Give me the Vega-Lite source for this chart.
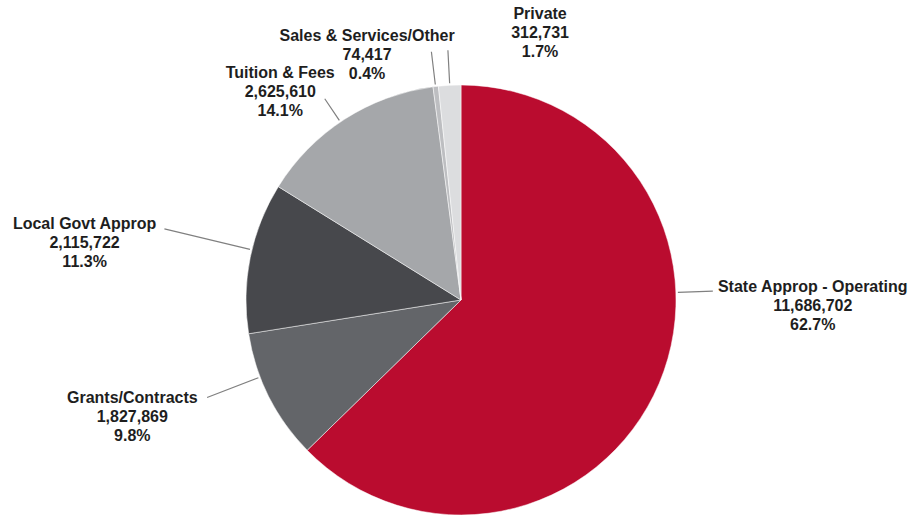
{
  "$schema": "https://vega.github.io/schema/vega-lite/v6.json",
  "width": 904,
  "height": 432,
  "padding": {"left": 9, "top": 84, "right": 0, "bottom": 0},
  "autosize": {"type": "none"},
  "background": "white",
  "config": {"view": {"stroke": null}},
  "data": {
    "values": [
      {"name": "State Approp - Operating", "value": 11686702, "idx": 1},
      {"name": "Grants/Contracts", "value": 1827869, "idx": 2},
      {"name": "Local Govt Approp", "value": 2115722, "idx": 3},
      {"name": "Tuition & Fees", "value": 2625610, "idx": 4},
      {"name": "Sales & Services/Other", "value": 74417, "idx": 5},
      {"name": "Private", "value": 312731, "idx": 6}
    ]
  },
  "transform": [
    {"joinaggregate": [{"op": "sum", "field": "value", "as": "total"}]},
    {"calculate": "[datum.name, format(datum.value, ','), format(datum.value / datum.total, '.1%')]", "as": "label"},
    {"stack": "value", "groupby": [], "sort": [{"field": "idx", "order": "ascending"}], "as": ["s0", "s1"]}
  ],
  "layer": [
    {
      "mark": {"type": "arc", "outerRadius": 215, "stroke": "white", "strokeWidth": 0.5},
      "encoding": {
        "theta": {"field": "value", "type": "quantitative", "stack": true},
        "order": {"field": "idx", "type": "quantitative"},
        "color": {
          "field": "name", "type": "nominal", "legend": null,
          "scale": {
            "domain": ["State Approp - Operating", "Grants/Contracts", "Local Govt Approp", "Tuition & Fees", "Sales & Services/Other", "Private"],
            "range": ["#BA0C2F", "#636569", "#47484C", "#A5A7AA", "#BDBEC1", "#DCDDDF"]
          }
        }
      }
    },
    {
      "transform": [{"filter": "datum.name == 'State Approp - Operating'"}],
      "mark": {"type": "arc", "innerRadius": 217, "outerRadius": 252, "thetaOffset": 1.53589, "theta2Offset": 1.53589, "fillOpacity": 0, "stroke": "#808080", "strokeWidth": 1.2},
      "encoding": {"theta": {"field": "s0", "type": "quantitative", "stack": null}, "theta2": {"field": "s0"}}
    },
    {
      "transform": [{"filter": "datum.name == 'Grants/Contracts'"}],
      "mark": {"type": "arc", "innerRadius": 217, "outerRadius": 272, "thetaOffset": 0.40718, "theta2Offset": 0.40718, "fillOpacity": 0, "stroke": "#808080", "strokeWidth": 1.2},
      "encoding": {"theta": {"field": "s0", "type": "quantitative", "stack": null}, "theta2": {"field": "s0"}}
    },
    {
      "transform": [{"filter": "datum.name == 'Local Govt Approp'"}],
      "mark": {"type": "arc", "innerRadius": 217, "outerRadius": 305, "thetaOffset": 0.39322, "theta2Offset": 0.39322, "fillOpacity": 0, "stroke": "#808080", "strokeWidth": 1.2},
      "encoding": {"theta": {"field": "s0", "type": "quantitative", "stack": null}, "theta2": {"field": "s0"}}
    },
    {
      "transform": [{"filter": "datum.name == 'Tuition & Fees'"}],
      "mark": {"type": "arc", "innerRadius": 217, "outerRadius": 243, "thetaOffset": 0.42019, "theta2Offset": 0.42019, "fillOpacity": 0, "stroke": "#808080", "strokeWidth": 1.2},
      "encoding": {"theta": {"field": "s0", "type": "quantitative", "stack": null}, "theta2": {"field": "s0"}}
    },
    {
      "transform": [{"filter": "datum.name == 'Sales & Services/Other'"}],
      "mark": {"type": "arc", "innerRadius": 217, "outerRadius": 250, "thetaOffset": 0.01178, "theta2Offset": 0.01178, "fillOpacity": 0, "stroke": "#808080", "strokeWidth": 1.2},
      "encoding": {"theta": {"field": "s0", "type": "quantitative", "stack": null}, "theta2": {"field": "s0"}}
    },
    {
      "transform": [{"filter": "datum.name == 'Private'"}],
      "mark": {"type": "arc", "innerRadius": 217, "outerRadius": 250, "thetaOffset": 0.05303, "theta2Offset": 0.05303, "fillOpacity": 0, "stroke": "#808080", "strokeWidth": 1.2},
      "encoding": {"theta": {"field": "s0", "type": "quantitative", "stack": null}, "theta2": {"field": "s0"}}
    },
    {
      "mark": {"type": "text", "radius": 352, "thetaOffset": -0.4353, "font": "Liberation Sans", "fontSize": 16, "fontWeight": "bold", "lineHeight": 19, "align": "center", "baseline": "middle", "fill": "#1E1E1E"},
      "encoding": {"theta": {"field": "value", "type": "quantitative", "stack": true}, "order": {"field": "idx", "type": "quantitative"}, "text": {"condition": {"test": "datum.name == 'State Approp - Operating'", "field": "label"}, "value": ""}}
    },
    {
      "mark": {"type": "text", "radius": 343, "thetaOffset": 0.1759, "font": "Liberation Sans", "fontSize": 16, "fontWeight": "bold", "lineHeight": 19, "align": "center", "baseline": "middle", "fill": "#1E1E1E"},
      "encoding": {"theta": {"field": "value", "type": "quantitative", "stack": true}, "order": {"field": "idx", "type": "quantitative"}, "text": {"condition": {"test": "datum.name == 'Grants/Contracts'", "field": "label"}, "value": ""}}
    },
    {
      "mark": {"type": "text", "radius": 384, "thetaOffset": 0.0005, "font": "Liberation Sans", "fontSize": 16, "fontWeight": "bold", "lineHeight": 19, "align": "center", "baseline": "middle", "fill": "#1E1E1E"},
      "encoding": {"theta": {"field": "value", "type": "quantitative", "stack": true}, "order": {"field": "idx", "type": "quantitative"}, "text": {"condition": {"test": "datum.name == 'Local Govt Approp'", "field": "label"}, "value": ""}}
    },
    {
      "mark": {"type": "text", "radius": 290, "thetaOffset": -0.1000, "font": "Liberation Sans", "fontSize": 16, "fontWeight": "bold", "lineHeight": 19, "align": "center", "baseline": "middle", "fill": "#1E1E1E"},
      "encoding": {"theta": {"field": "value", "type": "quantitative", "stack": true}, "order": {"field": "idx", "type": "quantitative"}, "text": {"condition": {"test": "datum.name == 'Tuition & Fees'", "field": "label"}, "value": ""}}
    },
    {
      "mark": {"type": "text", "radius": 280, "thetaOffset": -0.2241, "font": "Liberation Sans", "fontSize": 16, "fontWeight": "bold", "lineHeight": 19, "align": "center", "baseline": "middle", "fill": "#1E1E1E"},
      "encoding": {"theta": {"field": "value", "type": "quantitative", "stack": true}, "order": {"field": "idx", "type": "quantitative"}, "text": {"condition": {"test": "datum.name == 'Sales & Services/Other'", "field": "label"}, "value": ""}}
    },
    {
      "mark": {"type": "text", "radius": 297, "thetaOffset": 0.3222, "font": "Liberation Sans", "fontSize": 16, "fontWeight": "bold", "lineHeight": 19, "align": "center", "baseline": "middle", "fill": "#1E1E1E"},
      "encoding": {"theta": {"field": "value", "type": "quantitative", "stack": true}, "order": {"field": "idx", "type": "quantitative"}, "text": {"condition": {"test": "datum.name == 'Private'", "field": "label"}, "value": ""}}
    }
  ]
}
